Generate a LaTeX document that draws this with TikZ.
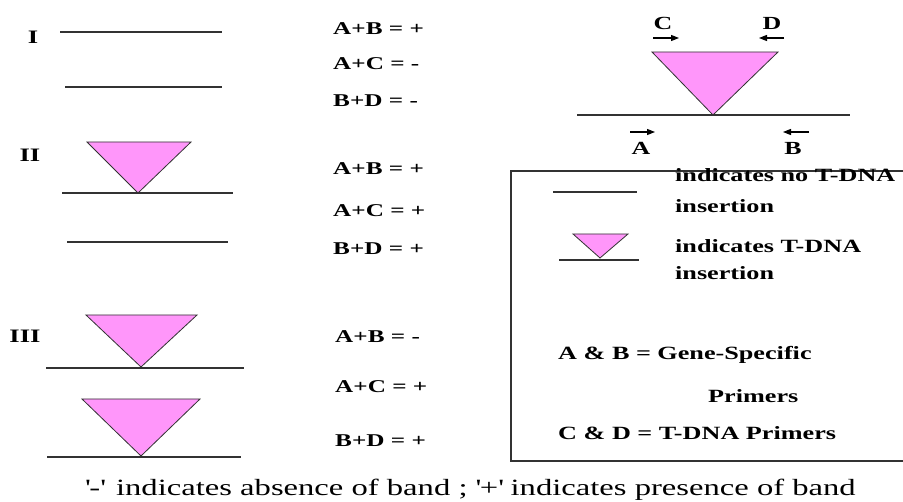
\documentclass[tikz,border=0pt]{standalone}
\usepackage{fontspec}
\setmainfont{Liberation Serif}[FakeStretch=1.4]
\usetikzlibrary{arrows.meta}
\definecolor{insfill}{RGB}{255,150,250}
\definecolor{linegray}{RGB}{50,50,50}
\tikzset{
  dna/.style={draw=linegray, line width=1.1pt},
  ins/.style={fill=insfill, draw=linegray, line width=0.8pt, line join=miter},
  eq/.style={anchor=base west, inner sep=0pt, font=\fontsize{18}{20}\selectfont\bfseries},
  roman/.style={anchor=base, inner sep=0pt, font=\fontsize{19}{20}\selectfont\bfseries},
  primer/.style={anchor=base, inner sep=0pt, font=\fontsize{18.5}{20}\selectfont\bfseries},
  legtxt/.style={anchor=base west, inner sep=0pt, font=\fontsize{18.7}{21}\selectfont\bfseries},
  primarrow/.style={draw=black, line width=1.1pt, -{Triangle[length=8pt,width=6pt]}},
  captxt/.style={anchor=base west, inner sep=0pt, font=\fontsize{23.3}{26}\selectfont}
}
\begin{document}
\begin{tikzpicture}[x=1pt,y=-1pt]
\useasboundingbox[fill=white] (0,0) rectangle (903,502);

% ---------- I ----------
\node[roman] (r1) at (33,44) {I};
\draw[dna] (60,32) -- (222,32);
\draw[dna] (65,87) -- (222,87);
\node[eq] (e11) at (333,35) {A+B = +};
\node[eq] (e12) at (333,70) {A+C = -};
\node[eq] (e13) at (333,107) {B+D = -};

% ---------- II ----------
\node[roman] (r2) at (30,162) {II};
\draw[ins] (87,142) -- (191,142) -- (138,193) -- cycle;
\draw[dna] (62,193) -- (233,193);
\draw[dna] (67,242) -- (228,242);
\node[eq] (e21) at (333,175) {A+B = +};
\node[eq] (e22) at (333,217) {A+C = +};
\node[eq] (e23) at (333,255) {B+D = +};

% ---------- III ----------
\node[roman] (r3) at (25,343) {III};
\draw[ins] (86,315) -- (197,315) -- (141,367) -- cycle;
\draw[dna] (46,368) -- (244,368);
\draw[ins] (82,399) -- (200,399) -- (141,456) -- cycle;
\draw[dna] (47,457) -- (241,457);
\node[eq] (e31) at (335,343) {A+B = -};
\node[eq] (e32) at (335,393) {A+C = +};
\node[eq] (e33) at (335,447) {B+D = +};

% ---------- primer diagram ----------
\draw[ins] (652,52) -- (778,52) -- (713,115) -- cycle;
\draw[dna] (577,115) -- (850,115);
\node[primer] (lC) at (663,30) {C};
\node[primer] (lD) at (772,30) {D};
\node[primer] (lA) at (641,155) {A};
\node[primer] (lB) at (793,155) {B};
\coordinate (c1) at (653,38); \coordinate (c2) at (679,38);
\coordinate (d1) at (784,38); \coordinate (d2) at (759,38);
\coordinate (a1) at (630,132); \coordinate (a2) at (655,132);
\coordinate (b1) at (809,132); \coordinate (b2) at (783,132);
\draw[primarrow] (c1) -- (c2);
\draw[primarrow] (d1) -- (d2);
\draw[primarrow] (a1) -- (a2);
\draw[primarrow] (b1) -- (b2);

% ---------- legend ----------
\draw[draw=linegray, line width=1.3pt] (906,171) -- (511,171) -- (511,461) -- (906,461);
\draw[dna] (553,192) -- (637,192);
\node[legtxt] (t1) at (675,182) {indicates no T-DNA};
\node[legtxt] (t2) at (675,213) {insertion};
\draw[ins] (573,234) -- (628,234) -- (600,258) -- cycle;
\draw[dna] (559,260) -- (639,260);
\node[legtxt] (t3) at (675,253) {indicates T-DNA};
\node[legtxt] (t4) at (675,280) {insertion};
\node[legtxt] (t5) at (558,360) {A \& B = Gene-Specific};
\node[legtxt] (t6) at (708,403) {Primers};
\node[legtxt] (t7) at (558,440) {C \& D = T-DNA Primers};

% ---------- caption ----------
\node[captxt] (capt) at (85,496) {\textquotesingle-\textquotesingle\enspace indicates absence of band ; \textquotesingle+\textquotesingle\ indicates presence of band};
\end{tikzpicture}
\end{document}
